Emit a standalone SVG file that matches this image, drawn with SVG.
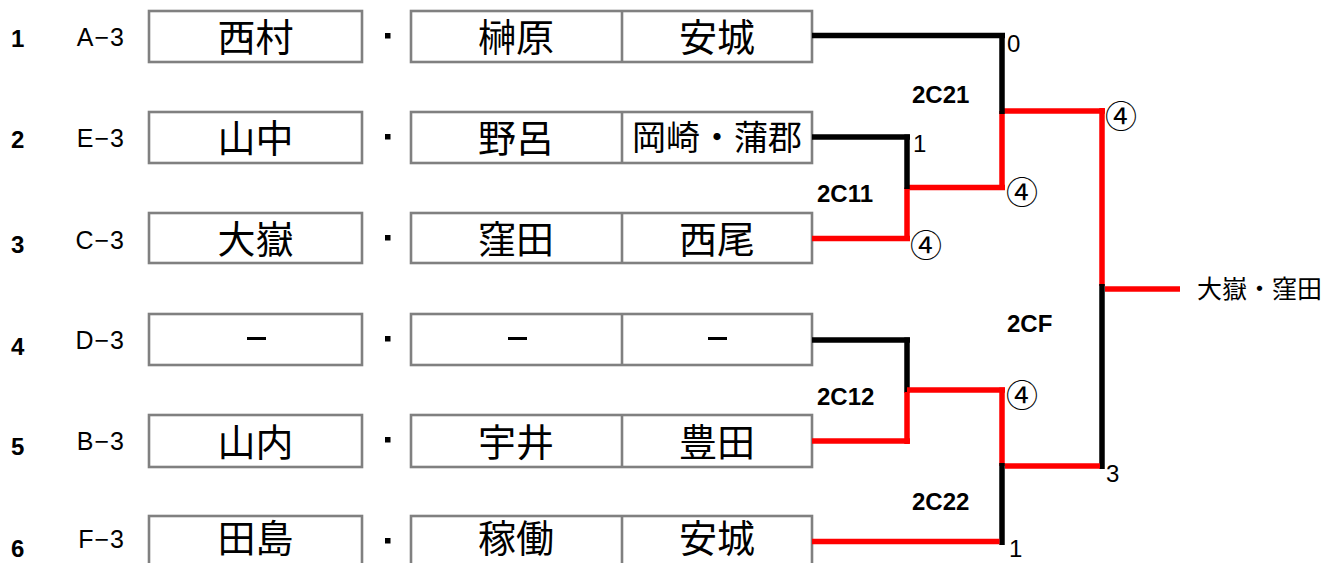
<svg xmlns="http://www.w3.org/2000/svg" width="1338" height="563" viewBox="0 0 1338 563">
<style>
.bg{fill:#fff}
.box{fill:#fff;stroke:#808080;stroke-width:2.6}
.num{font-family:"Liberation Sans",Arial,sans-serif;font-weight:bold;font-size:24px;fill:#000}
.code{font-family:"Liberation Sans",Arial,sans-serif;font-size:25px;fill:#000;letter-spacing:1px}
.name{font-family:"Noto Sans CJK JP","Noto Sans CJK SC",sans-serif;font-size:38px;fill:#000;text-anchor:middle}
.name2{font-family:"Noto Sans CJK JP","Noto Sans CJK SC",sans-serif;font-size:34px;fill:#000;text-anchor:middle}
.dot{fill:#000}
.sep{stroke:#808080;stroke-width:2.6}
.blk{stroke:#000;stroke-width:5.5;fill:none}
.red{stroke:#f00;stroke-width:5.5;fill:none}
.mlab{font-family:"Liberation Sans",Arial,sans-serif;font-weight:bold;font-size:24px;fill:#000}
.score{font-family:"Liberation Sans",Arial,sans-serif;font-size:24px;fill:#000}
.circ{font-family:"Noto Sans CJK JP","Noto Sans CJK SC",sans-serif;font-size:32px;fill:#000;text-anchor:middle}
.win{font-family:"Noto Sans CJK JP","Noto Sans CJK SC",sans-serif;font-size:25px;fill:#000}
</style>
<rect class="bg" x="0" y="0" width="1338" height="563"/>

<g id="row1">
<text class="num" x="11" y="47">1</text>
<text class="code" x="125" y="46" text-anchor="end">A−3</text>
<rect class="box" x="149" y="11" width="213" height="51"/>
<text class="name" x="255.5" y="50.5">西村</text>
<rect class="dot" x="385" y="33" width="5.5" height="5.5"/>
<rect class="box" x="411" y="11" width="401" height="51"/>
<line class="sep" x1="622" y1="11" x2="622" y2="62"/>
<text class="name" x="516" y="50.5">榊原</text>
<text class="name" x="717" y="50.5">安城</text>
</g>

<g id="row2">
<text class="num" x="11" y="148">2</text>
<text class="code" x="125" y="147" text-anchor="end">E−3</text>
<rect class="box" x="149" y="112" width="213" height="51"/>
<text class="name" x="255.5" y="151.5">山中</text>
<rect class="dot" x="385" y="134" width="5.5" height="5.5"/>
<rect class="box" x="411" y="112" width="401" height="51"/>
<line class="sep" x1="622" y1="112" x2="622" y2="163"/>
<text class="name" x="516" y="151.5">野呂</text>
<text class="name2" x="717" y="150">岡崎・蒲郡</text>
</g>

<g id="row3">
<text class="num" x="11" y="253">3</text>
<text class="code" x="125" y="249" text-anchor="end">C−3</text>
<rect class="box" x="149" y="213" width="213" height="50"/>
<text class="name" x="255.5" y="252.5">大嶽</text>
<rect class="dot" x="385" y="235" width="5.5" height="5.5"/>
<rect class="box" x="411" y="213" width="401" height="50"/>
<line class="sep" x1="622" y1="213" x2="622" y2="263"/>
<text class="name" x="516" y="252.5">窪田</text>
<text class="name" x="717" y="252.5">西尾</text>
</g>

<g id="row4">
<text class="num" x="11" y="355">4</text>
<text class="code" x="125" y="349" text-anchor="end">D−3</text>
<rect class="box" x="149" y="314" width="213" height="51"/>
<rect class="dot" x="247" y="337" width="19" height="3"/>
<rect class="dot" x="385" y="336" width="5.5" height="5.5"/>
<rect class="box" x="411" y="314" width="401" height="51"/>
<line class="sep" x1="622" y1="314" x2="622" y2="365"/>
<rect class="dot" x="508" y="337" width="19" height="3"/>
<rect class="dot" x="708" y="337" width="19" height="3"/>
</g>

<g id="row5">
<text class="num" x="11" y="455">5</text>
<text class="code" x="125" y="450" text-anchor="end">B−3</text>
<rect class="box" x="149" y="415" width="213" height="52"/>
<text class="name" x="255.5" y="455.5">山内</text>
<rect class="dot" x="385" y="437" width="5.5" height="5.5"/>
<rect class="box" x="411" y="415" width="401" height="52"/>
<line class="sep" x1="622" y1="415" x2="622" y2="467"/>
<text class="name" x="516" y="455.5">宇井</text>
<text class="name" x="717" y="455.5">豊田</text>
</g>

<g id="row6">
<text class="num" x="11" y="557">6</text>
<text class="code" x="125" y="548" text-anchor="end">F−3</text>
<rect class="box" x="149" y="516" width="213" height="60"/>
<text class="name" x="255.5" y="552">田島</text>
<rect class="dot" x="385" y="538" width="5.5" height="5.5"/>
<rect class="box" x="411" y="516" width="401" height="60"/>
<line class="sep" x1="622" y1="516" x2="622" y2="563"/>
<text class="name" x="516" y="552">稼働</text>
<text class="name" x="717" y="552">安城</text>
</g>

<g id="connectors">
<line class="blk" x1="812" y1="35.5" x2="1005" y2="35.5"/>
<line class="red" x1="1002" y1="111" x2="1105" y2="111"/>
<line class="red" x1="1002" y1="111" x2="1002" y2="190"/>
<line class="blk" x1="1002" y1="33" x2="1002" y2="114"/>
<line class="blk" x1="812" y1="137" x2="910" y2="137"/>
<line class="red" x1="905" y1="187.5" x2="1005" y2="187.5"/>
<line class="red" x1="907" y1="187.5" x2="907" y2="241"/>
<line class="blk" x1="907" y1="134.5" x2="907" y2="189"/>
<line class="red" x1="812" y1="238.5" x2="910" y2="238.5"/>
<line class="red" x1="1102" y1="108" x2="1102" y2="286"/>
<line class="red" x1="1105" y1="289" x2="1180" y2="289"/>
<line class="blk" x1="1102" y1="284" x2="1102" y2="469"/>
<line class="blk" x1="812" y1="340" x2="910" y2="340"/>
<line class="blk" x1="907" y1="337.5" x2="907" y2="393"/>
<line class="red" x1="907" y1="390" x2="1005" y2="390"/>
<line class="red" x1="907" y1="392" x2="907" y2="444"/>
<line class="red" x1="812" y1="441" x2="910" y2="441"/>
<line class="red" x1="1002" y1="387.5" x2="1002" y2="466"/>
<line class="blk" x1="1002" y1="463" x2="1002" y2="545"/>
<line class="red" x1="1005" y1="466" x2="1100" y2="466"/>
<line class="red" x1="812" y1="541.5" x2="999.5" y2="541.5"/>
</g>

<g id="labels">
<text class="score" x="1007" y="52">0</text>
<text class="score" x="913" y="152">1</text>
<text class="score" x="1106" y="482">3</text>
<text class="score" x="1009" y="557">1</text>
<text class="mlab" x="912" y="103">2C21</text>
<text class="mlab" x="817" y="202">2C11</text>
<text class="mlab" x="817" y="405">2C12</text>
<text class="mlab" x="912" y="510">2C22</text>
<text class="mlab" x="1007" y="332">2CF</text>
<text class="circ" x="926" y="257">④</text>
<text class="circ" x="1022" y="204">④</text>
<text class="circ" x="1121" y="128">④</text>
<text class="circ" x="1022" y="407">④</text>
<text class="win" x="1197" y="298">大嶽・窪田</text>
</g>
</svg>
